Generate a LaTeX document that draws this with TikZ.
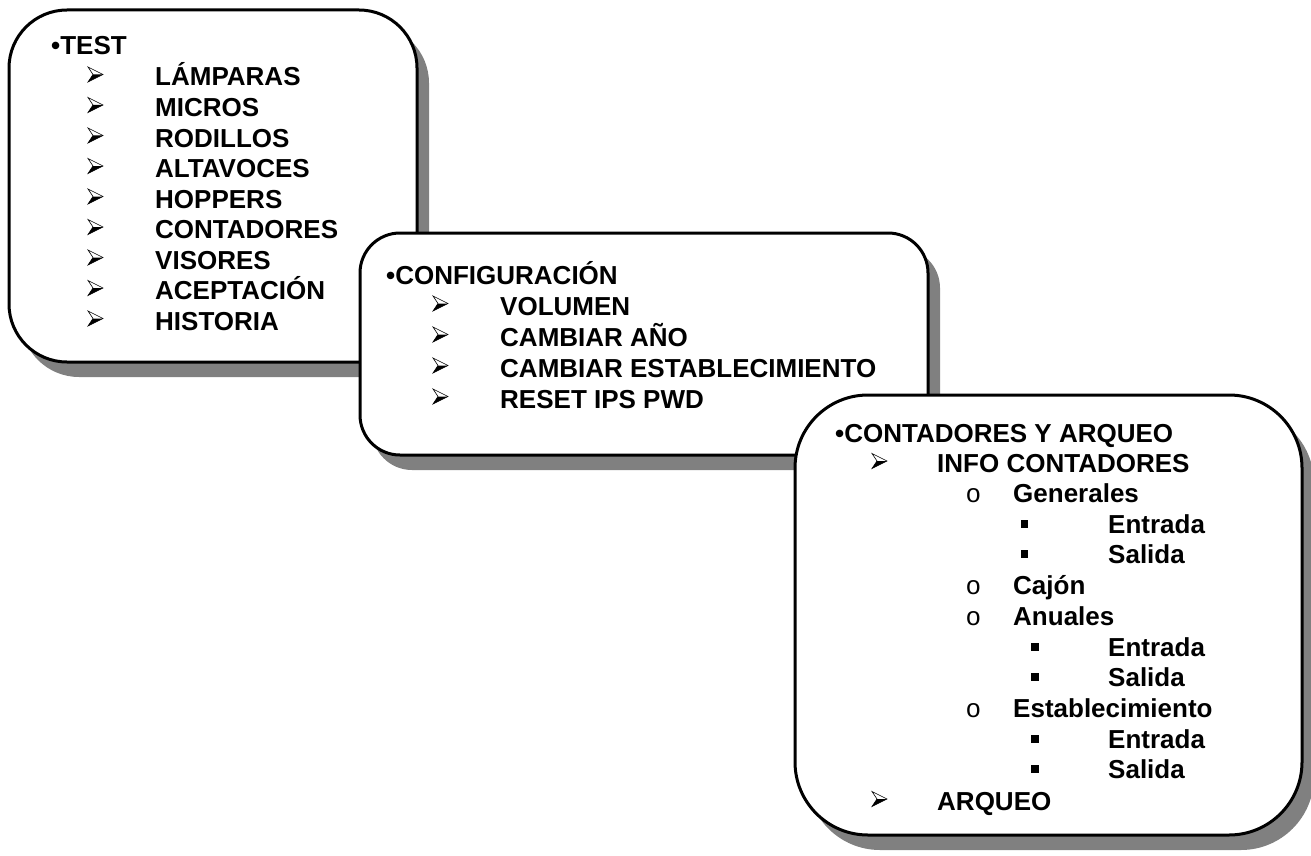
\documentclass[tikz,border=0pt]{standalone}
\usepackage{fontspec}
\setmainfont{Liberation Sans}
\newfontfamily\ringfont{Liberation Mono}
\usetikzlibrary{shadows}

\tikzset{
	pics/arrowmark/.style={code={
		\fill[black] (-2.5,0) -- (7.5,0) -- (-7.5,7.5) -- cycle;
		\draw[line width=0.6pt, line join=miter] (-7.5,-7.5) -- (7.5,0) -- (-7.5,7.5) -- (-2.5,0) -- cycle;
	}}
}

\begin{document}
\begin{tikzpicture}[x=1pt, y=-1pt]
	\tikzstyle{panel} = [draw, line width=3pt, fill=white, inner sep=0pt, drop shadow={shadow xshift=12pt, shadow yshift=-15pt, fill=black!50, opacity=1}];
	\tikzstyle{entry} = [anchor=base west, inner sep=0pt, font={\fontsize{26}{30}\selectfont\bfseries}];
	\tikzstyle{ringmark} = [anchor=base, inner sep=0pt, font={\ringfont\fontsize{26}{26}\selectfont}];
	\tikzstyle{squaremark} = [fill=black, inner sep=0pt, minimum size=7.5pt];

	\useasboundingbox (0,0) rectangle (1311,856);

	% panels, back to front
	\node[panel, rounded corners=58pt, minimum width=408pt, minimum height=352pt] (testbox) at (213,186) {};
	\node[panel, rounded corners=40pt, minimum width=568pt, minimum height=222pt] (confbox) at (644,344) {};
	\node[panel, rounded corners=73pt, minimum width=507pt, minimum height=440pt] (contbox) at (1048.5,615) {};

	% TEST
	\def \testitems {LÁMPARAS, MICROS, RODILLOS, ALTAVOCES, HOPPERS, CONTADORES, VISORES, ACEPTACIÓN, HISTORIA}

	\node[entry] (testhead) at (51,55) {•TEST};
	\foreach \t [count=\i] in \testitems {
		\pic (testarr\i) at (95.5, {44+30.5*\i}) {arrowmark};
		\node[entry] (test\i) at (155, {55.5+30.5*\i}) {\t};
	}

	% CONFIGURACION
	\def \confitems {VOLUMEN, CAMBIAR AÑO, CAMBIAR ESTABLECIMIENTO, RESET IPS PWD}

	\node[entry] (confhead) at (386,284) {•CONFIGURACIÓN};
	\foreach \t [count=\i] in \confitems {
		\pic (confarr\i) at (440.5, {272.5+31*\i}) {arrowmark};
		\node[entry] (conf\i) at (500, {284+31*\i}) {\t};
	}

	% CONTADORES Y ARQUEO
	\node[entry] (conthead) at (835,442) {•CONTADORES Y ARQUEO};
	\pic (contarr1) at (879.5,461) {arrowmark};
	\node[entry] (info) at (937,472) {INFO CONTADORES};

	\node[ringmark] (ring1) at (973.5,502) {o};
	\node[entry] (gen) at (1013,502) {Generales};
	\node[squaremark] (sq1) at (1024.5,524) {};
	\node[entry] (genin) at (1108,533) {Entrada};
	\node[squaremark] (sq2) at (1024.5,554) {};
	\node[entry] (genout) at (1108,563) {Salida};

	\node[ringmark] (ring2) at (973.5,594) {o};
	\node[entry] (cajon) at (1013,594) {Cajón};

	\node[ringmark] (ring3) at (973.5,625) {o};
	\node[entry] (anu) at (1013,625) {Anuales};
	\node[squaremark] (sq3) at (1035,647) {};
	\node[entry] (anuin) at (1108,656) {Entrada};
	\node[squaremark] (sq4) at (1035,677) {};
	\node[entry] (anuout) at (1108,686) {Salida};

	\node[ringmark] (ring4) at (973.5,717) {o};
	\node[entry] (est) at (1013,717) {Establecimiento};
	\node[squaremark] (sq5) at (1035,739) {};
	\node[entry] (estin) at (1108,748) {Entrada};
	\node[squaremark] (sq6) at (1035,769) {};
	\node[entry] (estout) at (1108,778) {Salida};

	\pic (contarr2) at (879.5,799) {arrowmark};
	\node[entry] (arqueo) at (937,810) {ARQUEO};
\end{tikzpicture}
\end{document}
